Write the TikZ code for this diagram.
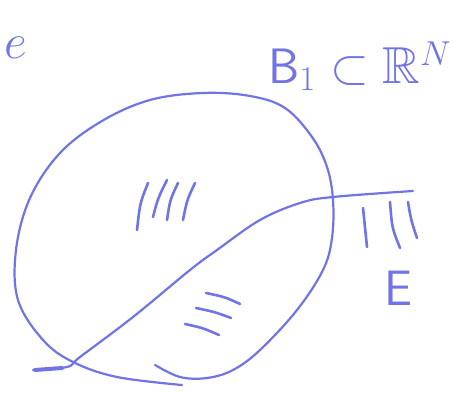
\documentclass[tikz,border=0pt]{standalone}
\usepackage{amssymb}
\usetikzlibrary{positioning}
\definecolor{penblue}{RGB}{112,116,228}

\begin{document}
\begin{tikzpicture}[
  x=0.5pt, y=-0.5pt,
  pen/.style={draw=penblue, line width=1.1pt, line cap=round, line join=round},
  hatch/.style={pen, line width=1.3pt},
  label/.style={text=penblue, font=\sffamily\fontsize{26}{28}\selectfont, inner sep=0pt}
]
\useasboundingbox (0,0) rectangle (454,394);

% the ball B_1
\draw[pen] plot[smooth, tension=0.6] coordinates {
  (155,365) (180,377) (207,378) (233,370) (260,350) (297,310) (323,270)
  (332,238) (333,200) (327,167) (312,137) (285,108) (250,96) (203,93)
  (150,100) (102,121) (60,153) (30,198) (16,250) (18,300) (43,340)
  (73,362) (117,377) (182,385)};

% boundary of E
\draw[pen] plot[smooth, tension=0.6] coordinates {
  (33,370) (67,367) (80,357) (133,317) (190,270) (217,250) (260,220)
  (300,203) (333,197) (413,191)};
\draw[pen, line width=2pt] (35,370) -- (62,368);

% hatching inside the ball
\draw[hatch] (148,183) .. controls (140,203) .. (137,230);
\draw[hatch] (167,180) .. controls (158,198) .. (153,217);
\draw[hatch] (178,183) .. controls (170,200) .. (167,220);
\draw[hatch] (195,183) .. controls (187,200) .. (183,220);

% hatching in E, outside the ball
\draw[hatch] (363,208) -- (367,247);
\draw[hatch] (390,202) .. controls (392,228) .. (400,248);
\draw[hatch] (408,202) .. controls (411,220) .. (417,238);

% hatching near the bottom
\draw[hatch] (206,293) .. controls (225,297) .. (240,304);
\draw[hatch] (196,308) .. controls (215,312) .. (231,318);
\draw[hatch] (185,324) .. controls (203,328) .. (219,335);

% labels
\node[label] (ball) at (360,66) {$\mathsf{B}_1\subset\mathbb{R}^N$};
\node[label] (setE) at (398,288) {$\mathsf{E}$};
\node[label, font=\fontsize{40}{42}\selectfont] (fam) at (16,48) {$e$};
\end{tikzpicture}
\end{document}
